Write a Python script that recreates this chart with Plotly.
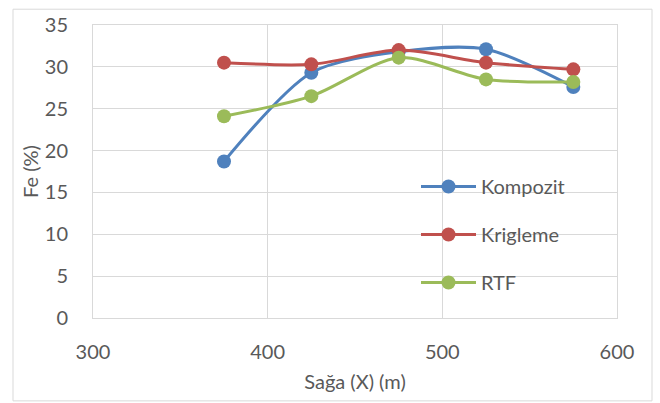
import plotly.graph_objects as go

# Distance along the section (m)
saga_x = [375, 425, 475, 525, 575]

# Fe grade (%) for each estimation method
kompozit = [18.7, 29.3, 31.8, 32.1, 27.6]
krigleme = [30.5, 30.3, 32.0, 30.5, 29.7]
rtf = [24.1, 26.5, 31.1, 28.5, 28.2]

series = [
    ("Kompozit", kompozit, "#4F81BD"),
    ("Krigleme", krigleme, "#C0504D"),
    ("RTF", rtf, "#9BBB59"),
]

font_family = "Lato, 'Open Sans', sans-serif"
text_color = "#595959"
grid_color = "#D9D9D9"
fsize = 20

fig = go.Figure()
for name, values, color in series:
    fig.add_trace(go.Scatter(
        x=saga_x, y=values, name=name, legendgroup=name,
        mode="lines+markers",
        line=dict(color=color, width=3, shape="spline", smoothing=0.8),
        marker=dict(color=color, size=14),
    ))

L, R, T, B = 93, 43, 21, 85
W, H = 660, 403
pw, ph = W - L - R, H - T - B

def px_x(p):
    return (p - L) / pw

def px_y(p):
    return (H - B - p) / ph

fig.update_layout(
    width=W, height=H,
    margin=dict(l=L, r=R, t=T, b=B),
    paper_bgcolor="white", plot_bgcolor="white",
    font=dict(family=font_family, size=fsize, color=text_color),
    xaxis=dict(
        range=[300, 600], dtick=100, tick0=300,
        showgrid=True, gridcolor=grid_color, gridwidth=1,
        showline=True, linecolor=grid_color, linewidth=1, mirror=True,
        zeroline=False, ticks="", ticklabelstandoff=16,
        tickfont=dict(size=fsize, color=text_color),
        title=dict(text="Sağa (X) (m)", font=dict(size=fsize, color=text_color), standoff=12),
    ),
    yaxis=dict(
        range=[0, 35], dtick=5,
        showgrid=True, gridcolor=grid_color, gridwidth=1,
        showline=True, linecolor=grid_color, linewidth=1, mirror=True,
        zeroline=False, ticks="", ticklabelstandoff=20,
        tickfont=dict(size=fsize, color=text_color),
        title=dict(text="Fe (%)", font=dict(size=fsize, color=text_color), standoff=0),
    ),
    legend=dict(
        x=px_x(416), y=px_y(165), xanchor="left", yanchor="top",
        bgcolor="rgba(0,0,0,0)", borderwidth=0,
        font=dict(size=fsize, color=text_color),
        tracegroupgap=19, itemwidth=55,
    ),
    showlegend=True,
    shapes=[
        # white panel behind the legend, hiding the gridlines there
        dict(
            type="rect", xref="paper", yref="paper",
            x0=px_x(392), x1=px_x(602), y0=px_y(308), y1=px_y(163),
            line=dict(width=0), fillcolor="white", layer="between",
        ),
        # outer chart border
        dict(
            type="rect", xref="paper", yref="paper",
            x0=px_x(13), x1=px_x(652), y0=px_y(402), y1=px_y(5),
            line=dict(color=grid_color, width=1), fillcolor="rgba(0,0,0,0)",
            layer="below",
        ),
    ],
)

fig.write_html("out.html")
